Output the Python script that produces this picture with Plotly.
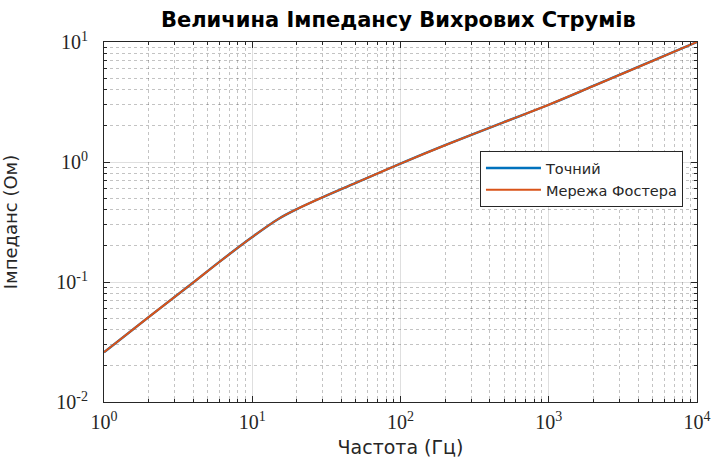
import plotly.graph_objects as go

freq = [1, 2, 4, 6, 10, 15, 20, 30, 50, 100, 200, 500, 1000, 2000, 5000, 10000]
z_exact = [0.026, 0.051, 0.099, 0.147, 0.237, 0.335, 0.405, 0.510, 0.670, 0.970, 1.38, 2.15, 3.00, 4.30, 6.95, 10.0]
z_foster = [0.026, 0.051, 0.099, 0.147, 0.237, 0.335, 0.405, 0.510, 0.670, 0.970, 1.38, 2.15, 3.00, 4.30, 6.95, 10.0]
series_names = ["Точний", "Мережа Фостера"]
x_ticks = [1, 10, 100, 1000, 10000]
x_ticktext = ["10<sup>0</sup>", "10<sup>1</sup>", "10<sup>2</sup>", "10<sup>3</sup>", "10<sup>4</sup>"]
y_ticks = [0.01, 0.1, 1, 10]
y_ticktext = ["10<sup>-2</sup>", "10<sup>-1</sup>", "10<sup>0</sup>", "10<sup>1</sup>"]
minor_mult = [2, 3, 4, 5, 6, 7, 8, 9]

x_minor = [d * m for d in x_ticks[:-1] for m in minor_mult]
y_minor = [d * m for d in y_ticks[:-1] for m in minor_mult]

fig = go.Figure()
fig.add_trace(go.Scatter(x=freq, y=z_exact, name=series_names[0], mode="lines",
                         line=dict(color="#0072BD", width=2.4, shape="spline")))
fig.add_trace(go.Scatter(x=freq, y=z_foster, name=series_names[1], mode="lines",
                         line=dict(color="#D95319", width=2.0, shape="spline")))

axis_common = dict(
    showline=True, linecolor="#262626", linewidth=1.2, mirror="ticks",
    ticks="inside", ticklen=6, tickcolor="#262626", tickwidth=1,
    showgrid=True, gridcolor="rgba(38,38,38,0.15)", gridwidth=1,
    zeroline=False, automargin=False,
    tickfont=dict(family="Liberation Serif", size=20, color="#262626"),
)
minor_common = dict(ticks="inside", ticklen=3, tickcolor="#262626", tickwidth=1,
                    showgrid=True, gridcolor="rgba(38,38,38,0.28)", griddash="dot", gridwidth=1)

fig.update_xaxes(type="log", range=[0, 4], tickvals=x_ticks, ticktext=x_ticktext,
                 ticklabelstandoff=2,
                 title=dict(text="Частота (Гц)", font=dict(family="DejaVu Sans", size=19, color="#262626"), standoff=8),
                 minor=dict(tickvals=x_minor, **minor_common),
                 **axis_common)
fig.update_yaxes(type="log", range=[-2, 1], tickvals=y_ticks, ticktext=y_ticktext,
                 ticklabelstandoff=11,
                 title=dict(text="Імпеданс (Ом)", font=dict(family="DejaVu Sans", size=18, color="#262626"), standoff=34),
                 minor=dict(tickvals=y_minor, **minor_common),
                 **axis_common)

fig.update_layout(
    width=714, height=462,
    margin=dict(l=104, r=17, t=42, b=60),
    paper_bgcolor="white", plot_bgcolor="white",
    title=dict(text="<b>Величина Імпедансу Вихрових Струмів</b>", x=0.558, xanchor="center",
               y=0.957, yanchor="middle",
               font=dict(family="DejaVu Sans", size=21, color="black")),
    legend=dict(x=0.634, y=0.697, xanchor="left", yanchor="top",
                bgcolor="white", bordercolor="#262626", borderwidth=1,
                font=dict(family="DejaVu Sans", size=14.5, color="#262626"),
                itemwidth=55, tracegroupgap=0),
    showlegend=True,
)

fig.write_html("out.html", config={"displayModeBar": False},
               post_script="document.body.style.margin='0';document.body.style.padding='0';")
